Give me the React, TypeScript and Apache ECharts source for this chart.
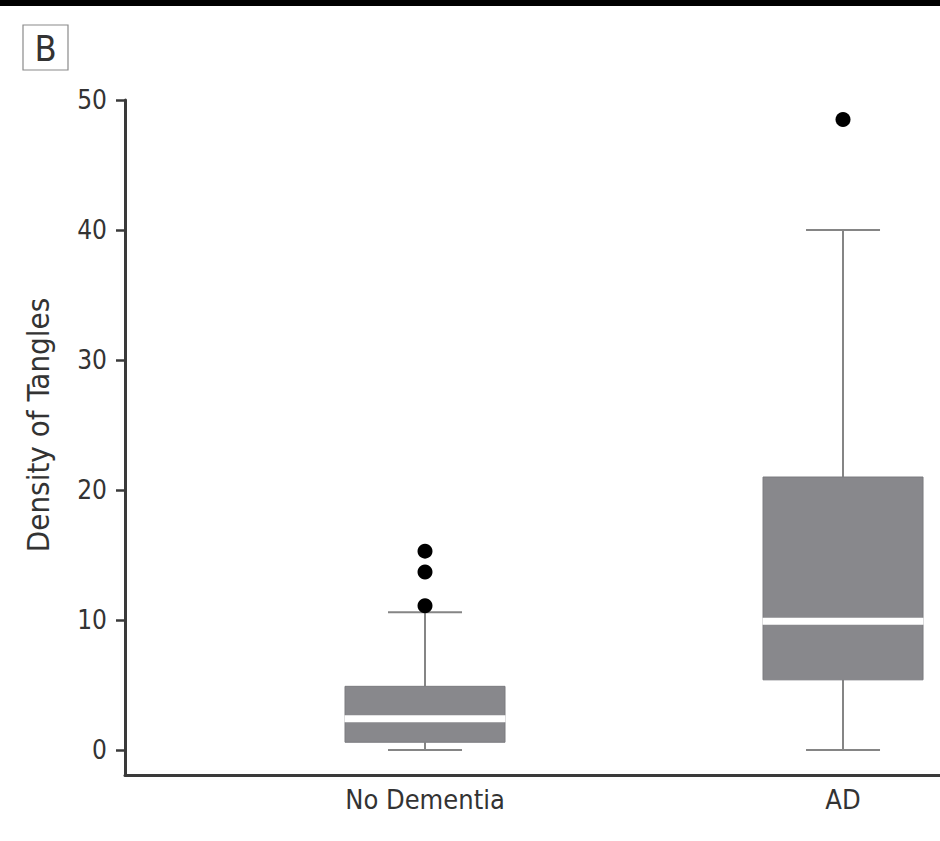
import React, { useEffect, useRef } from "react";
import * as echarts from "echarts";

// ---- data ----
const categories = ["No Dementia", "AD"];
const categoryPositions = [1, 2];
// box statistics per category: [lower whisker, Q1, median, Q3, upper whisker]
const lowerWhisker = [0, 0];
const q1Values = [0.6, 5.4];
const medianValues = [2.4, 9.9];
const q3Values = [4.9, 21.0];
const upperWhisker = [10.6, 40.0];
// outliers
const outlierCategory = [1, 1, 1, 2];
const outlierValues = [15.3, 13.7, 11.1, 48.5];
const yTicks = [0, 10, 20, 30, 40, 50];
const yAxisTitle = "Density of Tangles";
const panelLabel = "B";

// ---- styles ----
const FONT = "'DejaVu Sans Condensed', 'DejaVu Sans', sans-serif";
const NARROW = "'Liberation Sans Narrow', 'DejaVu Sans Condensed', sans-serif";
const AXIS_COLOR = "#3a3a3a";
const TEXT_COLOR = "#333333";
const BOX_FILL = "#88888c";
const BOX_STROKE = "#7b7b7f";
const WHISKER = "#858585";
const BOX_W = 160;
const CAP_W = 74;
const MEDIAN_H = 7;

export default function App() {
  const ref = useRef<HTMLDivElement | null>(null);

  useEffect(() => {
    document.body.style.margin = "0";
    if (!ref.current) return;
    const chart = echarts.init(ref.current, null, { renderer: "svg" });

    const boxData = categoryPositions.map((x, i) => [
      x,
      lowerWhisker[i],
      q1Values[i],
      medianValues[i],
      q3Values[i],
      upperWhisker[i],
    ]);
    const outlierData = outlierCategory.map((c, i) => [c, outlierValues[i]]);

    const option: any = {
      animation: false,
      backgroundColor: "#ffffff",
      grid: { left: 125, right: 0, top: 100, bottom: 66, containLabel: false },
      xAxis: {
        type: "value",
        min: 0.2823,
        max: 2.232,
        splitLine: { show: false },
        axisLine: { show: true, onZero: false, lineStyle: { color: AXIS_COLOR, width: 3 } },
        axisTick: { show: false },
        axisLabel: {
          customValues: categoryPositions,
          formatter: (v: number) => {
            const idx = categoryPositions.findIndex((p) => Math.abs(p - v) < 1e-6);
            return idx >= 0 ? categories[idx] : "";
          },
          fontFamily: FONT,
          fontSize: 27,
          color: TEXT_COLOR,
          margin: 11,
        },
      },
      yAxis: {
        type: "value",
        min: -1.92,
        max: 50,
        splitLine: { show: false },
        axisLine: { show: true, onZero: false, lineStyle: { color: AXIS_COLOR, width: 3 } },
        axisTick: {
          show: true,
          customValues: yTicks,
          length: 9,
          lineStyle: { color: AXIS_COLOR, width: 2.5 },
        },
        axisLabel: {
          customValues: yTicks,
          fontFamily: FONT,
          fontSize: 26,
          color: TEXT_COLOR,
          margin: 18,
        },
      },
      graphic: [
        { type: "rect", left: 0, top: 0, shape: { width: 940, height: 6 }, style: { fill: "#000" } },
        {
          type: "rect",
          shape: { x: 23, y: 25, width: 45, height: 45 },
          style: { fill: "none", stroke: "#8a8a8a", lineWidth: 1.2 },
        },
        {
          type: "text",
          x: 45.5,
          y: 48,
          style: {
            text: panelLabel,
            fontFamily: NARROW,
            fontSize: 36,
            fill: TEXT_COLOR,
            align: "center",
            verticalAlign: "middle",
          },
        },
        {
          type: "text",
          x: 38,
          y: 425,
          rotation: Math.PI / 2,
          style: {
            text: yAxisTitle,
            fontFamily: FONT,
            fontSize: 31,
            fill: TEXT_COLOR,
            align: "center",
            verticalAlign: "middle",
          },
        },
      ],
      series: [
        {
          type: "custom",
          data: boxData,
          encode: { x: 0, y: [1, 2, 3, 4, 5] },
          clip: false,
          renderItem: (params: any, api: any) => {
            const x = api.value(0);
            const pLo = api.coord([x, api.value(1)]);
            const pQ1 = api.coord([x, api.value(2)]);
            const pMed = api.coord([x, api.value(3)]);
            const pQ3 = api.coord([x, api.value(4)]);
            const pHi = api.coord([x, api.value(5)]);
            const cx = pLo[0];
            const lineStyle = { stroke: WHISKER, lineWidth: 2 };
            return {
              type: "group",
              children: [
                { type: "line", shape: { x1: cx, y1: pLo[1], x2: cx, y2: pQ1[1] }, style: lineStyle },
                { type: "line", shape: { x1: cx, y1: pQ3[1], x2: cx, y2: pHi[1] }, style: lineStyle },
                { type: "line", shape: { x1: cx - CAP_W / 2, y1: pLo[1], x2: cx + CAP_W / 2, y2: pLo[1] }, style: lineStyle },
                { type: "line", shape: { x1: cx - CAP_W / 2, y1: pHi[1], x2: cx + CAP_W / 2, y2: pHi[1] }, style: lineStyle },
                {
                  type: "rect",
                  shape: { x: cx - BOX_W / 2, y: pQ3[1], width: BOX_W, height: pQ1[1] - pQ3[1] },
                  style: { fill: BOX_FILL, stroke: BOX_STROKE, lineWidth: 1 },
                },
                {
                  type: "rect",
                  shape: { x: cx - BOX_W / 2 - 0.5, y: pMed[1] - MEDIAN_H / 2, width: BOX_W + 1, height: MEDIAN_H },
                  style: { fill: "#ffffff" },
                },
              ],
            };
          },
        },
        {
          type: "scatter",
          data: outlierData,
          symbol: "circle",
          symbolSize: 15,
          itemStyle: { color: "#000000", opacity: 1 },
          z: 5,
        },
      ],
    };

    chart.setOption(option);
    return () => chart.dispose();
  }, []);

  return <div ref={ref} style={{ width: 940, height: 841 }} />;
}
